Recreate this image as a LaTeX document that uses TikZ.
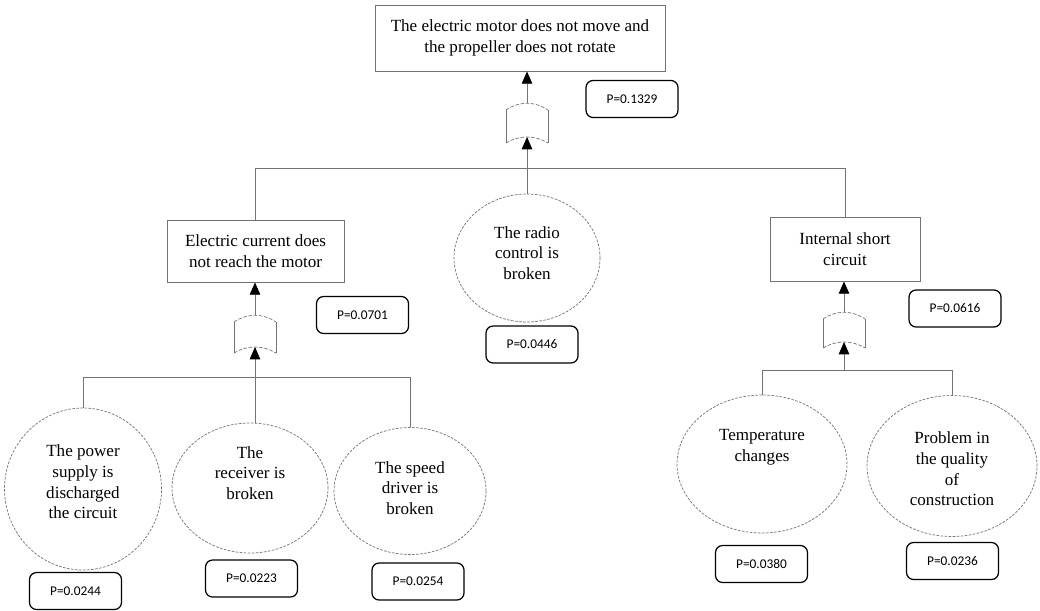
\documentclass[tikz,border=0pt]{standalone}
\usepackage{fontspec}
\setmainfont{Liberation Serif}
\newfontfamily\pfont{Carlito}
\usetikzlibrary{shapes.geometric,arrows.meta}

\begin{document}
\begin{tikzpicture}[x=0.02cm,y=-0.02cm,
	line/.style={draw=black!55,line width=0.5pt},
	event/.style={line,rectangle,inner sep=0pt,align=center,font=\fontsize{9.7}{12.3}\selectfont},
	basic/.style={draw=black!55,line width=0.4pt,dash pattern=on 1.5pt off 0.8pt,ellipse,inner sep=0pt},
	prob/.style={draw=black,line width=0.7pt,rounded corners=4pt,minimum width=1.84cm,minimum height=0.74cm,font=\pfont\fontsize{7.6}{9}\selectfont},
	arr/.style={line,-{Triangle[width=6pt,length=7pt,color=black]}},
	lbl/.style={align=center,font=\fontsize{9.7}{11.8}\selectfont}]
	\useasboundingbox (0,0) rectangle (1040,610);
	
	\node[event,minimum width=5.8cm,minimum height=1.32cm] (top) at (520,38) {The electric motor does not move and\\the propeller does not rotate};
	\node[event,minimum width=3.54cm,minimum height=1.24cm] (lbox) at (255.5,251) {Electric current does\\not reach the motor};
	\node[event,minimum width=3.0cm,minimum height=1.28cm] (rbox) at (845,249) {Internal short\\circuit};
	
	\node[basic,minimum width=3.14cm,minimum height=3.24cm] (e1) at (83,489) {};
	\node[basic,minimum width=3.12cm,minimum height=2.6cm] (e2) at (250,488) {};
	\node[basic,minimum width=3.04cm,minimum height=2.54cm] (e3) at (410,491) {};
	\node[basic,minimum width=2.92cm,minimum height=2.56cm] (em) at (527,258) {};
	\node[basic,minimum width=3.4cm,minimum height=2.76cm] (e4) at (762,464) {};
	\node[basic,minimum width=3.4cm,minimum height=2.82cm] (e5) at (952,466) {};
	\node[lbl] (e1t) at (83,482) {The power\\supply is\\discharged\\the circuit};
	\node[lbl] (e2t) at (250,473) {The\\receiver is\\broken};
	\node[lbl] (e3t) at (410,488) {The speed\\driver is\\broken};
	\node[lbl] (emt) at (527,253) {The radio\\control is\\broken};
	\node[lbl] (e4t) at (762,447) {Temperature\\changes};
	\node[lbl] (e5t) at (952,469) {Problem in\\the quality\\of\\construction};
	
	\node[prob] (p0) at (632,99) {P=0.1329};
	\node[prob] (p1) at (362.5,315) {P=0.0701};
	\node[prob] (p2) at (532,344.5) {P=0.0446};
	\node[prob] (p3) at (955,308.5) {P=0.0616};
	\node[prob] (p4) at (75.5,591) {P=0.0244};
	\node[prob] (p5) at (251.5,578.5) {P=0.0223};
	\node[prob] (p6) at (418,581.5) {P=0.0254};
	\node[prob] (p7) at (761.5,564) {P=0.0380};
	\node[prob] (p8) at (952.5,561) {P=0.0236};
	
	\foreach \gx/\gt/\gb/\gn in {527/103/143/g0,255/315/353/g1,844/312/348/g2}{
		\draw[line,line width=0.4pt,dash pattern=on 2pt off 1pt] (\gx-21,\gt+7) .. controls (\gx-8,\gt-2) and (\gx+8,\gt-2) .. (\gx+21,\gt+7);
		\draw[line,line width=0.4pt,dash pattern=on 2pt off 1pt] (\gx-21,\gb) .. controls (\gx-8,\gb-8) and (\gx+8,\gb-8) .. (\gx+21,\gb);
		\draw[line,line width=0.4pt] (\gx-21,\gt+7) -- (\gx-21,\gb) (\gx+21,\gt+7) -- (\gx+21,\gb);
		\coordinate (\gn-out) at (\gx,\gt);
		\coordinate (\gn-in) at (\gx,\gb-6);
	}
	\coordinate (topbar) at (527,168);
	\coordinate (lbar) at (255,377);
	\coordinate (rbar) at (844,370);
	
	\draw[line] (lbox.north) |- (topbar) -| (rbox.north);
	\draw[line] (e1.north) |- (lbar) -| (e3.north);
	\draw[line] (e4.north) |- (rbar) -| (e5.north);
	
	\draw[arr] (g0-out) -- (g0-out |- top.south);
	\draw[arr] (em.north) -- (g0-in);
	\draw[arr] (g1-out) -- (g1-out |- lbox.south);
	\draw[arr] (g1-in |- e2.north) -- (g1-in);
	\draw[arr] (g2-out) -- (g2-out |- rbox.south);
	\draw[arr] (rbar) -- (g2-in);
	
\end{tikzpicture}
\end{document}
